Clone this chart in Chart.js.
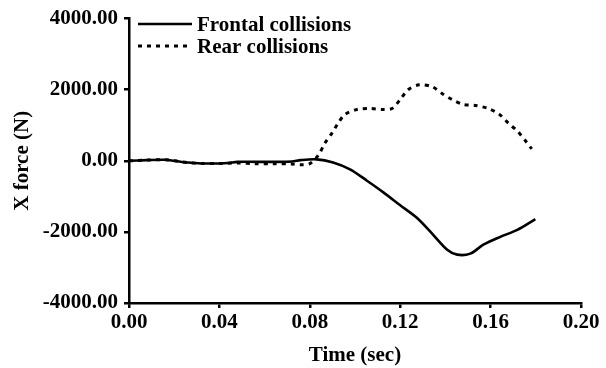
<!DOCTYPE html>
<html>
<head>
<meta charset="utf-8">
<script src="https://cdn.jsdelivr.net/npm/chart.js@4.4.1/dist/chart.umd.min.js"></script>
<style>
  html, body { margin: 0; padding: 0; background: #fff; }
  #wrap { width: 606px; height: 368px; }
</style>
</head>
<body>
<div id="wrap"><canvas id="chart" width="606" height="368"></canvas></div>
<script>
// Values
const frontalTime = [0.000, 0.008, 0.016, 0.020, 0.026, 0.032, 0.040, 0.044, 0.048, 0.056, 0.064, 0.072, 0.076, 0.083,
    0.0903, 0.0978, 0.1053, 0.1124, 0.1200, 0.1275, 0.1346, 0.1408, 0.1452, 0.1510, 0.1568, 0.1643, 0.1718, 0.1798];
const frontalForce = [0, 20, 30, 0, -50, -75, -75, -60, -30, -30, -30, -20, 20, 40,
    -47, -240, -560, -880, -1250, -1611, -2083, -2500, -2640, -2611, -2361, -2139, -1944, -1639];

const rearTime = [0.000, 0.008, 0.016, 0.020, 0.026, 0.032, 0.040, 0.048, 0.056, 0.064, 0.072, 0.076, 0.080, 0.0837,
    0.0867, 0.0898, 0.0925, 0.0956, 0.1009, 0.1067, 0.1120, 0.1164, 0.1200, 0.1235, 0.1284, 0.1342, 0.1386,
    0.1430, 0.1479, 0.1532, 0.1590, 0.1639, 0.1679, 0.1719, 0.1755, 0.1782];
const rearForce = [0, 20, 30, 0, -50, -75, -75, -60, -80, -80, -90, -110, -80, 150,
    500, 778, 1056, 1306, 1444, 1472, 1444, 1472, 1722, 2000, 2139, 2083, 1889,
    1722, 1583, 1556, 1472, 1306, 1056, 833, 556, 333];

const xTicks = [0, 0.04, 0.08, 0.12, 0.16, 0.20];
const yTicks = [-4000, -2000, 0, 2000, 4000];

const seriesNames = ['Frontal collisions', 'Rear collisions'];

const FONT = 'Liberation Serif, Times New Roman, serif';

const toPoints = (xs, ys) => xs.map((x, i) => ({ x: x, y: ys[i] }));

// Legend drawn inside the plot, top-left
const insideLegend = {
    id: 'insideLegend',
    afterDraw(chart) {
        const ctx = chart.ctx;
        const area = chart.chartArea;
        const x0 = area.left + 9;
        const lineLen = 54;
        const rows = [24, 46];
        ctx.save();
        ctx.font = 'bold 21px ' + FONT;
        ctx.textBaseline = 'middle';
        ctx.fillStyle = '#000';
        chart.data.datasets.forEach((ds, i) => {
            const y = rows[i];
            ctx.beginPath();
            ctx.strokeStyle = ds.borderColor;
            ctx.lineWidth = ds.borderWidth;
            ctx.setLineDash(ds.borderDash || []);
            ctx.moveTo(x0, y);
            ctx.lineTo(x0 + lineLen, y);
            ctx.stroke();
            ctx.setLineDash([]);
            ctx.fillText(ds.label, x0 + lineLen + 5, y + 2);
        });
        ctx.restore();
    }
};

new Chart(document.getElementById('chart'), {
    type: 'line',
    data: {
        datasets: [{
            label: seriesNames[0],
            data: toPoints(frontalTime, frontalForce),
            borderColor: '#000',
            borderWidth: 2.6,
            pointRadius: 0,
            tension: 0.3,
            fill: false
        }, {
            label: seriesNames[1],
            data: toPoints(rearTime, rearForce),
            borderColor: '#000',
            borderWidth: 3,
            borderDash: [4, 5],
            pointRadius: 0,
            tension: 0.3,
            fill: false
        }]
    },
    options: {
        responsive: false,
        animation: false,
        layout: { padding: { left: 0, right: 25, top: 15, bottom: 0 } },
        plugins: {
            legend: { display: false },
            tooltip: { enabled: false }
        },
        scales: {
            x: {
                type: 'linear',
                min: 0,
                max: 0.2,
                afterBuildTicks(scale) { scale.ticks = xTicks.map(v => ({ value: v })); },
                afterFit(scale) { scale.height = 65; },
                border: { display: true, color: '#000', width: 2.5 },
                grid: { drawOnChartArea: false, drawTicks: true, tickLength: 5, color: '#000', lineWidth: 2.5 },
                ticks: {
                    color: '#000',
                    padding: 2,
                    maxRotation: 0,
                    font: { family: FONT, size: 21, weight: 'bold' },
                    callback: v => Number(v).toFixed(2)
                },
                title: {
                    display: true,
                    text: 'Time (sec)',
                    color: '#000',
                    padding: { top: 4, bottom: 0 },
                    font: { family: FONT, size: 21, weight: 'bold' }
                }
            },
            y: {
                type: 'linear',
                min: -4000,
                max: 4000,
                afterBuildTicks(scale) { scale.ticks = yTicks.map(v => ({ value: v })); },
                afterFit(scale) { scale.width = 129; },
                border: { display: true, color: '#000', width: 2.5 },
                grid: { drawOnChartArea: false, drawTicks: true, tickLength: 5, color: '#000', lineWidth: 2.5 },
                ticks: {
                    color: '#000',
                    padding: 6,
                    font: { family: FONT, size: 21, weight: 'bold' },
                    callback: v => Number(v).toFixed(2)
                },
                title: {
                    display: true,
                    text: 'X force (N)',
                    color: '#000',
                    padding: { top: 10, bottom: 0 },
                    font: { family: FONT, size: 21, weight: 'bold' }
                }
            }
        }
    },
    plugins: [insideLegend]
});
</script>
</body>
</html>
